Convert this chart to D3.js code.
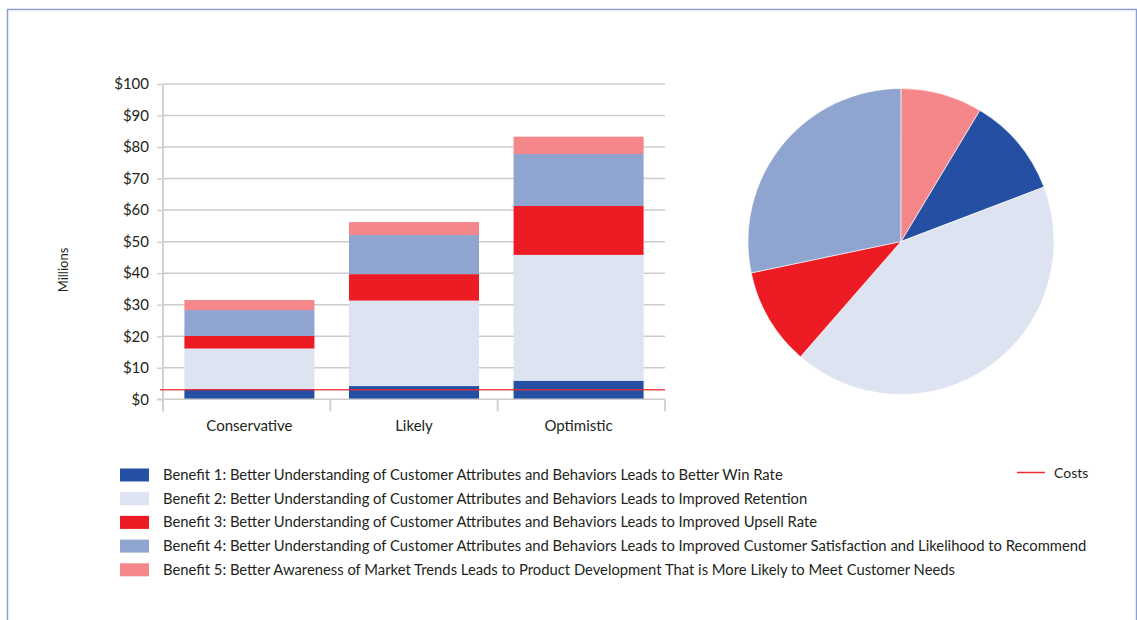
<!DOCTYPE html>
<html>
<head>
<meta charset="utf-8">
<script src="https://cdn.jsdelivr.net/npm/d3@7"></script>
<style>
  html, body { margin: 0; padding: 0; background: #fff; }
  svg { display: block; }
  text { font-family: "Lato", "Open Sans", sans-serif; fill: #231f20; }
</style>
</head>
<body>
<svg id="chart" width="1137" height="620"></svg>
<script>
// Scenarios and stacked benefit values ($ millions)
const scenarios = ["Conservative", "Likely", "Optimistic"];
const seriesNames = [
  "Benefit 1: Better Understanding of Customer Attributes and Behaviors Leads to Better Win Rate",
  "Benefit 2: Better Understanding of Customer Attributes and Behaviors Leads to Improved Retention",
  "Benefit 3: Better Understanding of Customer Attributes and Behaviors Leads to Improved Upsell Rate",
  "Benefit 4: Better Understanding of Customer Attributes and Behaviors Leads to Improved Customer Satisfaction and Likelihood to Recommend",
  "Benefit 5: Better Awareness of Market Trends Leads to Product Development That is More Likely to Meet Customer Needs"
];
const benefit1 = [3.3, 4.2, 5.9];
const benefit2 = [12.8, 27.1, 39.9];
const benefit3 = [4.0, 8.4, 15.5];
const benefit4 = [8.2, 12.4, 16.5];
const benefit5 = [3.2, 4.1, 5.5];
const costs = 3.0;
// Share of total benefits (percent), same order as the series
const pieShares = [10.6, 42.2, 10.3, 28.3, 8.6];
const yTicks = [0, 10, 20, 30, 40, 50, 60, 70, 80, 90, 100];
const colors = ["#254fa2", "#dee3f1", "#ed1c24", "#8fa5cf", "#f5868a"];

const svg = d3.select("#chart");

// Outer frame
svg.append("rect")
  .attr("x", 7.5).attr("y", 9.5).attr("width", 1129).attr("height", 640)
  .attr("fill", "none").attr("stroke", "#8d9fd0").attr("stroke-width", 1.5);

// ---- Stacked bar chart ----
const plotLeft = 163, plotRight = 665, plotTop = 84, plotBottom = 399.3;
const x = d3.scaleBand().domain(scenarios).range([plotLeft, plotRight]).paddingInner(0.21).paddingOuter(0.13);
const y = d3.scaleLinear().domain([0, 100]).range([plotBottom, plotTop]);

const rows = scenarios.map((s, i) => ({
  scenario: s,
  b1: benefit1[i], b2: benefit2[i], b3: benefit3[i], b4: benefit4[i], b5: benefit5[i]
}));
const keys = ["b1", "b2", "b3", "b4", "b5"];
const stacked = d3.stack().keys(keys)(rows);

// gridlines
svg.append("g").selectAll("line").data(yTicks.filter(d => d > 0)).join("line")
  .attr("x1", plotLeft).attr("x2", plotRight)
  .attr("y1", d => y(d)).attr("y2", d => y(d))
  .attr("stroke", "#cccccc").attr("stroke-width", 1.5);

// y axis
const yAxis = d3.axisLeft(y).tickValues(yTicks).tickFormat(d => "$" + d).tickSize(6).tickPadding(8);
const gy = svg.append("g").attr("transform", `translate(${plotLeft},0)`).call(yAxis);
gy.select(".domain").attr("stroke", "#d2d2d2").attr("stroke-width", 2)
  .attr("d", `M0,${plotTop}V${plotBottom + 12}`);
gy.selectAll(".tick line").attr("stroke", "#d2d2d2").attr("stroke-width", 1.5);
gy.selectAll(".tick text").style("font-size", "15px").style("font-family", "Lato, sans-serif").attr("fill", "#231f20");

// bars
svg.append("g").selectAll("g").data(stacked).join("g")
  .attr("fill", (d, i) => colors[i])
  .selectAll("rect").data(d => d).join("rect")
  .attr("x", d => x(d.data.scenario))
  .attr("width", x.bandwidth())
  .attr("y", d => y(d[1]))
  .attr("height", d => y(d[0]) - y(d[1]));

// x axis baseline and category dividers
svg.append("line").attr("x1", plotLeft - 6).attr("x2", plotRight)
  .attr("y1", plotBottom).attr("y2", plotBottom)
  .attr("stroke", "#cccccc").attr("stroke-width", 1.5);
const dividers = d3.range(scenarios.length + 1).map(i => plotLeft + i * (plotRight - plotLeft) / scenarios.length);
svg.append("g").selectAll("line").data(dividers).join("line")
  .attr("x1", d => d).attr("x2", d => d)
  .attr("y1", plotBottom).attr("y2", plotBottom + 12)
  .attr("stroke", "#d2d2d2").attr("stroke-width", 2);

svg.append("g").selectAll("text").data(scenarios).join("text")
  .attr("x", d => x(d) + x.bandwidth() / 2)
  .attr("y", 431)
  .attr("text-anchor", "middle")
  .style("font-size", "15px")
  .text(d => d);

// costs line
svg.append("line")
  .attr("x1", plotLeft - 3).attr("x2", plotRight)
  .attr("y1", y(costs)).attr("y2", y(costs))
  .attr("stroke", "#ee2a35").attr("stroke-opacity", 0.85).attr("stroke-width", 1.5);

// y title
svg.append("text")
  .attr("transform", "translate(68,270) rotate(-90)")
  .attr("text-anchor", "middle")
  .style("font-size", "13px")
  .text("Millions");

// ---- Pie chart ----
const cx = 901, cy = 241.5, r = 153;
const startDeg = 31;
const pie = d3.pie().sort(null).value(d => d)
  .startAngle(startDeg * Math.PI / 180)
  .endAngle(startDeg * Math.PI / 180 + 2 * Math.PI);
const arc = d3.arc().innerRadius(0).outerRadius(r);
svg.append("g").attr("transform", `translate(${cx},${cy})`)
  .selectAll("path").data(pie(pieShares)).join("path")
  .attr("d", arc)
  .attr("fill", (d, i) => colors[i])
  .attr("stroke", "#fff").attr("stroke-width", 0.6);

// ---- Legend ----
const legend = svg.append("g");
const legendRows = legend.selectAll("g").data(seriesNames).join("g")
  .attr("transform", (d, i) => `translate(120,${475 + i * 23.7})`);
legendRows.append("rect")
  .attr("x", 0).attr("y", -6.5).attr("width", 29).attr("height", 13)
  .attr("fill", (d, i) => colors[i]);
legendRows.append("text")
  .attr("x", 43).attr("y", 5)
  .style("font-size", "14.8px")
  .text(d => d);

const costLegend = svg.append("g").attr("transform", "translate(1017,472.5)");
costLegend.append("line").attr("x1", 0).attr("x2", 28).attr("y1", 0).attr("y2", 0)
  .attr("stroke", "#ee2a35").attr("stroke-width", 1.5);
costLegend.append("text").attr("x", 37).attr("y", 5).style("font-size", "14px").text("Costs");
</script>
</body>
</html>
